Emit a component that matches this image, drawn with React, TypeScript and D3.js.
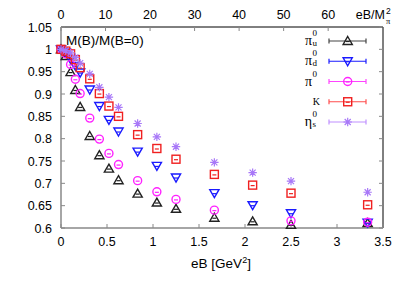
import React from 'react'
import * as d3 from 'd3'

// eB values in GeV^2 (flux quanta), shared by all series
const eB = [0, 0.052, 0.104, 0.156, 0.208, 0.3125, 0.417, 0.521, 0.625, 0.833, 1.042, 1.25, 1.667, 2.083, 2.5, 3.333]

// M(B)/M(B=0) per meson (null = no point)
const piU = [1.0, 0.985, 0.949, 0.909, 0.871, 0.806, 0.763, 0.733, 0.707, 0.677, 0.657, 0.643, 0.623, 0.615, 0.607, 0.611]
const piD = [1.0, 0.993, 0.978, 0.963, 0.948, 0.910, 0.873, 0.842, 0.816, 0.771, 0.739, 0.713, 0.678, 0.651, 0.633, 0.612]
const pi0 = [1.0, 0.99, 0.966, 0.933, 0.901, 0.846, 0.799, 0.767, 0.742, 0.706, 0.681, 0.664, 0.640, null, 0.616, 0.613]
const kaon = [1.0, 0.996, 0.99, 0.977, 0.959, 0.934, 0.901, 0.873, 0.850, 0.809, 0.778, 0.754, 0.720, 0.696, 0.678, 0.652]
const etaS = [1.0, 0.997, 0.992, 0.982, 0.969, 0.945, 0.915, 0.893, 0.870, 0.834, 0.804, 0.782, 0.747, 0.724, 0.705, 0.680]

const xTicks = [0, 0.5, 1, 1.5, 2, 2.5, 3, 3.5]
const x2Ticks = [0, 10, 20, 30, 40, 50, 60]
const yTicks = [0.6, 0.65, 0.7, 0.75, 0.8, 0.85, 0.9, 0.95, 1, 1.05]
const mPi2 = 0.0484 // GeV^2

type Shape = 'triUp' | 'triDown' | 'circle' | 'square' | 'star'

const series: { key: string; values: (number | null)[]; color: string; lineColor: string; shape: Shape }[] = [
  { key: 'piU', values: piU, color: '#222222', lineColor: '#444444', shape: 'triUp' },
  { key: 'piD', values: piD, color: '#1a1aff', lineColor: '#1a1aff', shape: 'triDown' },
  { key: 'pi0', values: pi0, color: '#ff22ff', lineColor: '#ff44ff', shape: 'circle' },
  { key: 'K', values: kaon, color: '#f02020', lineColor: '#ff4d4d', shape: 'square' },
  { key: 'etaS', values: etaS, color: '#a878f8', lineColor: '#c090ff', shape: 'star' },
]

const sans = '"Liberation Sans", Arial, sans-serif'
const serif = '"Liberation Serif", "Times New Roman", serif'

const Marker = ({ shape, color, cx, cy }: { shape: Shape; color: string; cx: number; cy: number }) => {
  const sw = 1.4
  let body: React.ReactNode = null
  if (shape === 'triUp') {
    body = <path d={`M${cx},${cy - 4.5}L${cx + 4.6},${cy + 3.5}L${cx - 4.6},${cy + 3.5}Z`} fill="none" stroke={color} strokeWidth={sw} />
  } else if (shape === 'triDown') {
    body = <path d={`M${cx},${cy + 4.5}L${cx + 4.6},${cy - 3.5}L${cx - 4.6},${cy - 3.5}Z`} fill="none" stroke={color} strokeWidth={sw} />
  } else if (shape === 'circle') {
    body = <circle cx={cx} cy={cy} r={4} fill="none" stroke={color} strokeWidth={sw} />
  } else if (shape === 'square') {
    body = <rect x={cx - 4} y={cy - 4} width={8} height={8} fill="none" stroke={color} strokeWidth={sw} />
  } else {
    const r = 4.2
    const d = r * 0.72
    body = (
      <path
        d={`M${cx - r},${cy}H${cx + r}M${cx},${cy - r}V${cy + r}M${cx - d},${cy - d}L${cx + d},${cy + d}M${cx - d},${cy + d}L${cx + d},${cy - d}`}
        stroke={color}
        strokeWidth={1.2}
      />
    )
  }
  return (
    <g>
      {body}
      {shape !== 'star' && <line x1={cx - 2} x2={cx + 2} y1={cy + 0.5} y2={cy + 0.5} stroke={color} strokeWidth={1.2} />}
    </g>
  )
}

const LegendLabel = ({ k, y }: { k: string; y: number }) => {
  const sx = 312
  if (k === 'K') {
    return <text x={320} y={y + 3.5} fontFamily={serif} fontSize={10} textAnchor="end">K</text>
  }
  const base = k === 'etaS' ? 'η' : 'π'
  const sub = k === 'piU' ? 'u' : k === 'piD' ? 'd' : k === 'etaS' ? 's' : null
  return (
    <g fontFamily={serif}>
      <text x={sx} y={y + 4} fontSize={14} textAnchor="end">{base}</text>
      <text x={sx + 0.5} y={y - 5} fontSize={9}>0</text>
      {sub && <text x={sx + 0.5} y={y + 5} fontSize={9}>{sub}</text>}
    </g>
  )
}

export default function App() {
  const W = 407
  const H = 285
  const x = d3.scaleLinear([0, 3.5], [61, 383])
  const x2 = d3.scaleLinear([0, 3.5 / mPi2], [61, 383])
  const y = d3.scaleLinear([0.6, 1.05], [228, 27])
  const [x0, x1] = x.range()
  const [yb, yt] = y.range()
  const tick = 4
  const fmt = (v: number) => String(+v.toFixed(2))
  const legendY = d3.scaleLinear([0, 4], [41, 122])

  return (
    <svg width={W} height={H} style={{ position: 'absolute', left: 0, top: 0, background: '#fff' }}>
      {/* frame: left/bottom gray, top/right black */}
      <line x1={x0} x2={x1} y1={yt} y2={yt} stroke="#000" strokeWidth={1} />
      <line x1={x1} x2={x1} y1={yt} y2={yb} stroke="#000" strokeWidth={1} />
      <line x1={x0} x2={x0} y1={yt} y2={yb} stroke="#888" strokeWidth={1.5} />
      <line x1={x0} x2={x1} y1={yb} y2={yb} stroke="#888" strokeWidth={1.5} />

      {/* y ticks */}
      {yTicks.map(t => (
        <g key={'y' + t}>
          <line x1={x0} x2={x0 + tick} y1={y(t)} y2={y(t)} stroke="#888" />
          <line x1={x1} x2={x1 - tick} y1={y(t)} y2={y(t)} stroke="#888" />
          <text x={52} y={y(t) + 4.5} textAnchor="end" fontFamily={sans} fontSize={12.5}>{fmt(t)}</text>
        </g>
      ))}
      {/* bottom x ticks */}
      {xTicks.map(t => (
        <g key={'x' + t}>
          <line x1={x(t)} x2={x(t)} y1={yb} y2={yb - tick} stroke="#888" />
          <text x={x(t)} y={246} textAnchor="middle" fontFamily={sans} fontSize={12.5}>{fmt(t)}</text>
        </g>
      ))}
      {/* top x2 ticks */}
      {x2Ticks.map(t => (
        <g key={'x2' + t}>
          <line x1={x2(t)} x2={x2(t)} y1={yt} y2={yt + tick} stroke="#888" />
          <text x={x2(t)} y={18.5} textAnchor="middle" fontFamily={sans} fontSize={12.5}>{t}</text>
        </g>
      ))}

      {/* axis labels */}
      <text x={221} y={268} textAnchor="middle" fontFamily={sans} fontSize={13.5}>
        eB [GeV<tspan dy={-5} fontSize={9}>2</tspan><tspan dy={5}>]</tspan>
      </text>
      <g fontFamily={sans}>
        <text x={385} y={19} textAnchor="end" fontSize={12.5}>eB/M</text>
        <text x={386} y={13.5} fontSize={8.5}>2</text>
        <text x={386} y={24} fontSize={8.5} fontFamily={serif}>π</text>
      </g>
      <text x={66} y={44.5} fontFamily={sans} fontSize={13.5}>M(B)/M(B=0)</text>

      {/* data */}
      {series.map(s => (
        <g key={s.key}>
          {s.values.map((v, i) =>
            v === null ? null : <Marker key={i} shape={s.shape} color={s.color} cx={x(eB[i])} cy={y(v)} />
          )}
        </g>
      ))}

      {/* legend */}
      {series.map((s, i) => {
        const ly = legendY(i)
        return (
          <g key={'lg' + s.key}>
            <LegendLabel k={s.key} y={ly} />
            <line x1={329} x2={366} y1={ly} y2={ly} stroke={s.lineColor} strokeWidth={1.2} />
            <line x1={329} x2={329} y1={ly - 2.5} y2={ly + 2.5} stroke={s.lineColor} strokeWidth={1.2} />
            <line x1={366} x2={366} y1={ly - 2.5} y2={ly + 2.5} stroke={s.lineColor} strokeWidth={1.2} />
            <Marker shape={s.shape} color={s.color} cx={347.7} cy={ly} />
          </g>
        )
      })}
    </svg>
  )
}
